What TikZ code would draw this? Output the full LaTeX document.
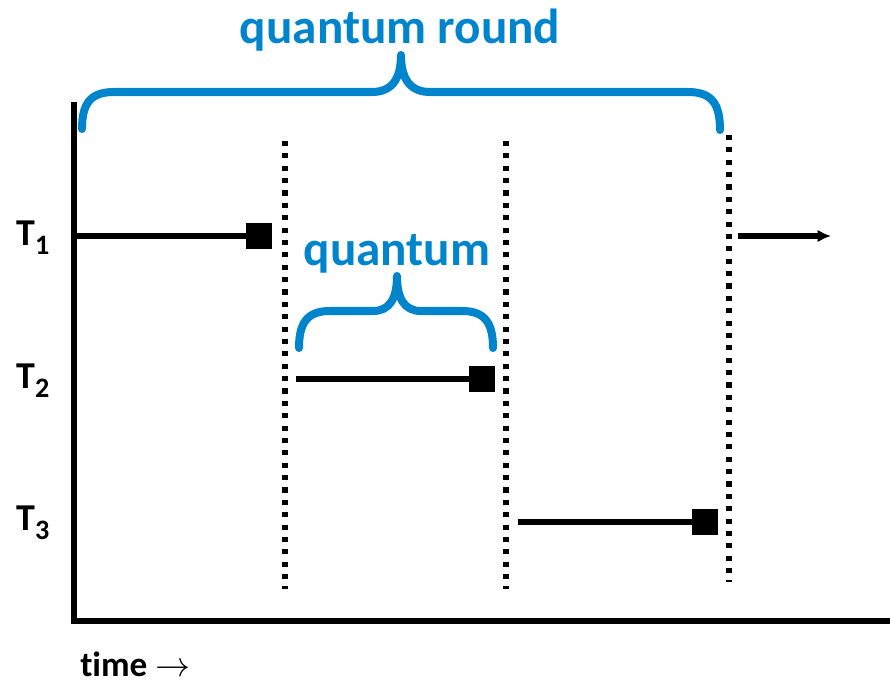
\documentclass[tikz,border=0pt]{standalone}
\usepackage{fontspec}
\setmainfont{Carlito}[Ligatures=NoCommon]
\usepackage{tikz}
\usetikzlibrary{arrows.meta,positioning}
\definecolor{qblue}{RGB}{0,133,204}
\newcommand{\tlab}[1]{T{\fontsize{20}{20}\selectfont\raisebox{-6.5pt}{#1}}}

\begin{document}
\begin{tikzpicture}[x=0.025cm, y=-0.025cm, line join=round, >=Latex,
    axis/.style={line width=4.3pt},
    slice/.style={line width=3.6pt},
    divider/.style={line width=3.6pt, dash pattern=on 3.6pt off 5.2pt},
    brace/.style={qblue, line width=5.7pt, line cap=round},
    blk/.style={rectangle, fill=black, minimum size=18.5pt, inner sep=0pt},
    tname/.style={anchor=base west, font=\bfseries\fontsize{27}{30}\selectfont, inner sep=0pt},
    qtext/.style={anchor=base, qblue, font=\bfseries\fontsize{35}{40}\selectfont, inner sep=0pt}]
    \useasboundingbox (0,0) rectangle (890,684);

    % axes
    \coordinate (ytop) at (74,102);
    \coordinate (orig) at (74,621);
    \coordinate (xend) at (890,621);
    \draw[axis] (ytop) -- (orig);
    \draw[axis] (71,621) -- (xend);

    % quantum boundaries
    \foreach \n/\x/\ya/\yb in {a/285/141/589, b/506/141/589, c/729/135/582} {
        \coordinate (d\n top) at (\x,\ya);
        \coordinate (d\n bot) at (\x,\yb);
        \draw[divider] (d\n top) -- (d\n bot);
    }

    % thread time slices
    \coordinate (s1) at (76,236);
    \coordinate (s2) at (296,379);
    \coordinate (s3) at (518,522);
    \node[blk] (e1) at (259,236) {};
    \node[blk] (e2) at (482,379) {};
    \node[blk] (e3) at (705,522) {};
    \foreach \i in {1,2,3} {\draw[slice] (s\i) -- (e\i);}

    % next round
    \coordinate (nxa) at (738,236);
    \coordinate (nxb) at (831,236);
    \draw[slice,-{Latex[length=9.5pt,width=9pt]}] (nxa) -- (nxb);

    % thread names
    \node[tname] (t1) at (16,245) {\tlab{1}};
    \node[tname] (t2) at (16,388) {\tlab{2}};
    \node[tname] (t3) at (16,530) {\tlab{3}};
    \node[anchor=base west, inner sep=0pt, font=\bfseries\fontsize{25}{30}\selectfont] (time) at (80,676) {time $\rightarrow$};

    % braces
    \draw[brace] (82,129) .. controls (82,104) and (90,92) .. (114,92) -- (372,92)
        .. controls (391,92) and (401,80) .. (401,55)
        .. controls (401,80) and (411,92) .. (430,92) -- (688,92)
        .. controls (712,92) and (720,104) .. (720,130);
    \draw[brace] (299,348) .. controls (299,323) and (307,311) .. (330,311) -- (373,311)
        .. controls (390,311) and (397,298) .. (397,276)
        .. controls (397,298) and (404,311) .. (421,311) -- (462,311)
        .. controls (485,311) and (493,323) .. (493,348);
    \node[qtext] (qround) at (400,44) {quantum round};
    \node[qtext] (qslice) at (397,265) {quantum};
\end{tikzpicture}
\end{document}
